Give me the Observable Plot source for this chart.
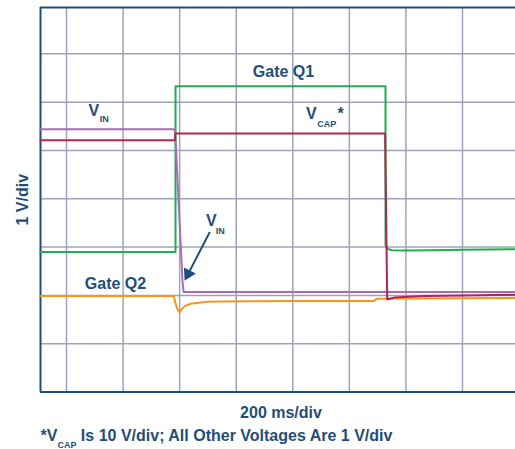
<!DOCTYPE html>
<html><head><meta charset="utf-8">
<script src="https://cdn.jsdelivr.net/npm/d3@7"></script>
<script src="https://cdn.jsdelivr.net/npm/@observablehq/plot@0.6"></script>
<style>
body{margin:0;background:#fff;}
#wrap{position:relative;width:515px;height:449px;overflow:hidden;font-family:"Liberation Sans",Arial,sans-serif;font-weight:bold;color:#1f4e79;}
.cap{position:absolute;font-size:16px;line-height:16px;white-space:nowrap;}
.sub{font-size:9px;position:relative;top:7px;}
</style></head><body><div id="wrap"></div>
<script>
// time in divisions (200 ms/div), voltage in divisions (1 V/div)
const gateQ1X = [0.54, 2.927, 2.927, 6.639, 6.639, 6.655, 6.69, 6.757, 6.95, 7.5, 8.0, 8.937];
const gateQ1Y = [2.90, 2.90, 6.33, 6.33, 3.05, 3.00, 2.955, 2.935, 2.93, 2.935, 2.945, 2.955];
const vinX = [0.54, 2.897, 2.92, 3.05, 3.07, 8.937];
const vinY = [5.44, 5.44, 5.40, 2.30, 2.068, 2.068];
const vcapX = [0.54, 2.914, 2.925, 6.632, 6.669, 6.8, 7.3, 8.0, 8.937];
const vcapY = [5.212, 5.212, 5.351, 5.351, 1.915, 1.955, 1.985, 2.0, 2.012];
const gateQ2X = [0.54, 2.84, 2.897, 2.927, 2.957, 2.998, 3.033, 3.086, 3.192, 3.487, 3.722, 5.0, 6.432, 6.492, 7.0, 8.0, 8.937];
const gateQ2Y = [1.99, 1.99, 1.975, 1.834, 1.724, 1.654, 1.710, 1.778, 1.828, 1.866, 1.876, 1.885, 1.885, 1.932, 1.935, 1.94, 1.948];
const xGrid = [1, 2, 3, 4, 5, 6, 7, 8];
const yGrid = [1, 2, 3, 4, 5, 6, 7];
const xDomain = [0.54, 8.937];
const yDomain = [0, 7.96];

const navy = "#1f4e79";
const pts = (xs, ys) => xs.map((x, i) => ({x, y: ys[i]}));

// annotation placement (data units)
const labels = [
  {t: "Gate Q1", x: 4.836, y: 6.518, s: 16},
  {t: "V", x: 1.483, y: 5.710, s: 16},
  {t: "IN", x: 1.666, y: 5.585, s: 9},
  {t: "V", x: 5.327, y: 5.662, s: 16},
  {t: "CAP", x: 5.600, y: 5.488, s: 9},
  {t: "*", x: 5.844, y: 5.662, s: 16},
  {t: "V", x: 3.560, y: 3.440, s: 16},
  {t: "IN", x: 3.719, y: 3.279, s: 9},
  {t: "Gate Q2", x: 1.866, y: 2.124, s: 16}
];
const arrowShaft = [{x1: 3.533, y1: 3.312, x2: 3.150, y2: 2.445}];
const arrowHead = [{x: 3.150, y: 2.445}];

const chart = Plot.plot({
  width: 515, height: 398,
  marginLeft: 40, marginRight: 0, marginTop: 7, marginBottom: 6.5,
  x: {domain: xDomain, axis: null},
  y: {domain: yDomain, axis: null},
  style: {fontFamily: "'Liberation Sans', Arial, sans-serif", background: "#fff"},
  marks: [
    Plot.gridX({ticks: xGrid, stroke: "#9ca3bc", strokeOpacity: 1, strokeWidth: 1.5}),
    Plot.gridY({ticks: yGrid, stroke: "#9ca3bc", strokeOpacity: 1, strokeWidth: 1.5}),
    Plot.ruleX([xDomain[0]], {stroke: navy, strokeWidth: 2}),
    Plot.ruleY([yDomain[0], yDomain[1]], {stroke: navy, strokeWidth: 2}),
    Plot.line(pts(gateQ1X, gateQ1Y), {x: "x", y: "y", stroke: "#1fad50", strokeWidth: 2}),
    Plot.line(pts(gateQ2X, gateQ2Y), {x: "x", y: "y", stroke: "#f7941e", strokeWidth: 2}),
    Plot.line(pts(vinX, vinY), {x: "x", y: "y", stroke: "#a66cb4", strokeWidth: 2}),
    Plot.line(pts(vcapX, vcapY), {x: "x", y: "y", stroke: "#b3244f", strokeWidth: 2}),
    Plot.text(labels, {x: "x", y: "y", text: "t", fontSize: "s", fill: navy, fontWeight: "bold", lineAnchor: "bottom", textAnchor: "middle"}),
    Plot.link(arrowShaft, {x1: "x1", y1: "y1", x2: "x2", y2: "y2", stroke: navy, strokeWidth: 2}),
    Plot.dot(arrowHead, {x: "x", y: "y", symbol: "triangle", r: 5, fill: navy, stroke: null, rotate: 207}),
    Plot.text(["1 V/div"], {frameAnchor: "left", textAnchor: "middle", dx: -18, rotate: -90, fill: navy, fontSize: 16, fontWeight: "bold"})
  ]
});
const wrap = document.getElementById("wrap");
wrap.appendChild(chart);
const c1 = document.createElement("div");
c1.className = "cap";
c1.style.left = "281px"; c1.style.top = "404.5px"; c1.style.transform = "translateX(-50%)";
c1.textContent = "200 ms/div";
wrap.appendChild(c1);
const c2 = document.createElement("div");
c2.className = "cap";
c2.style.left = "40.5px"; c2.style.top = "428px";
c2.innerHTML = '*V<span class="sub">CAP</span> Is 10 V/div; All Other Voltages Are 1 V/div';
wrap.appendChild(c2);
</script></body></html>
